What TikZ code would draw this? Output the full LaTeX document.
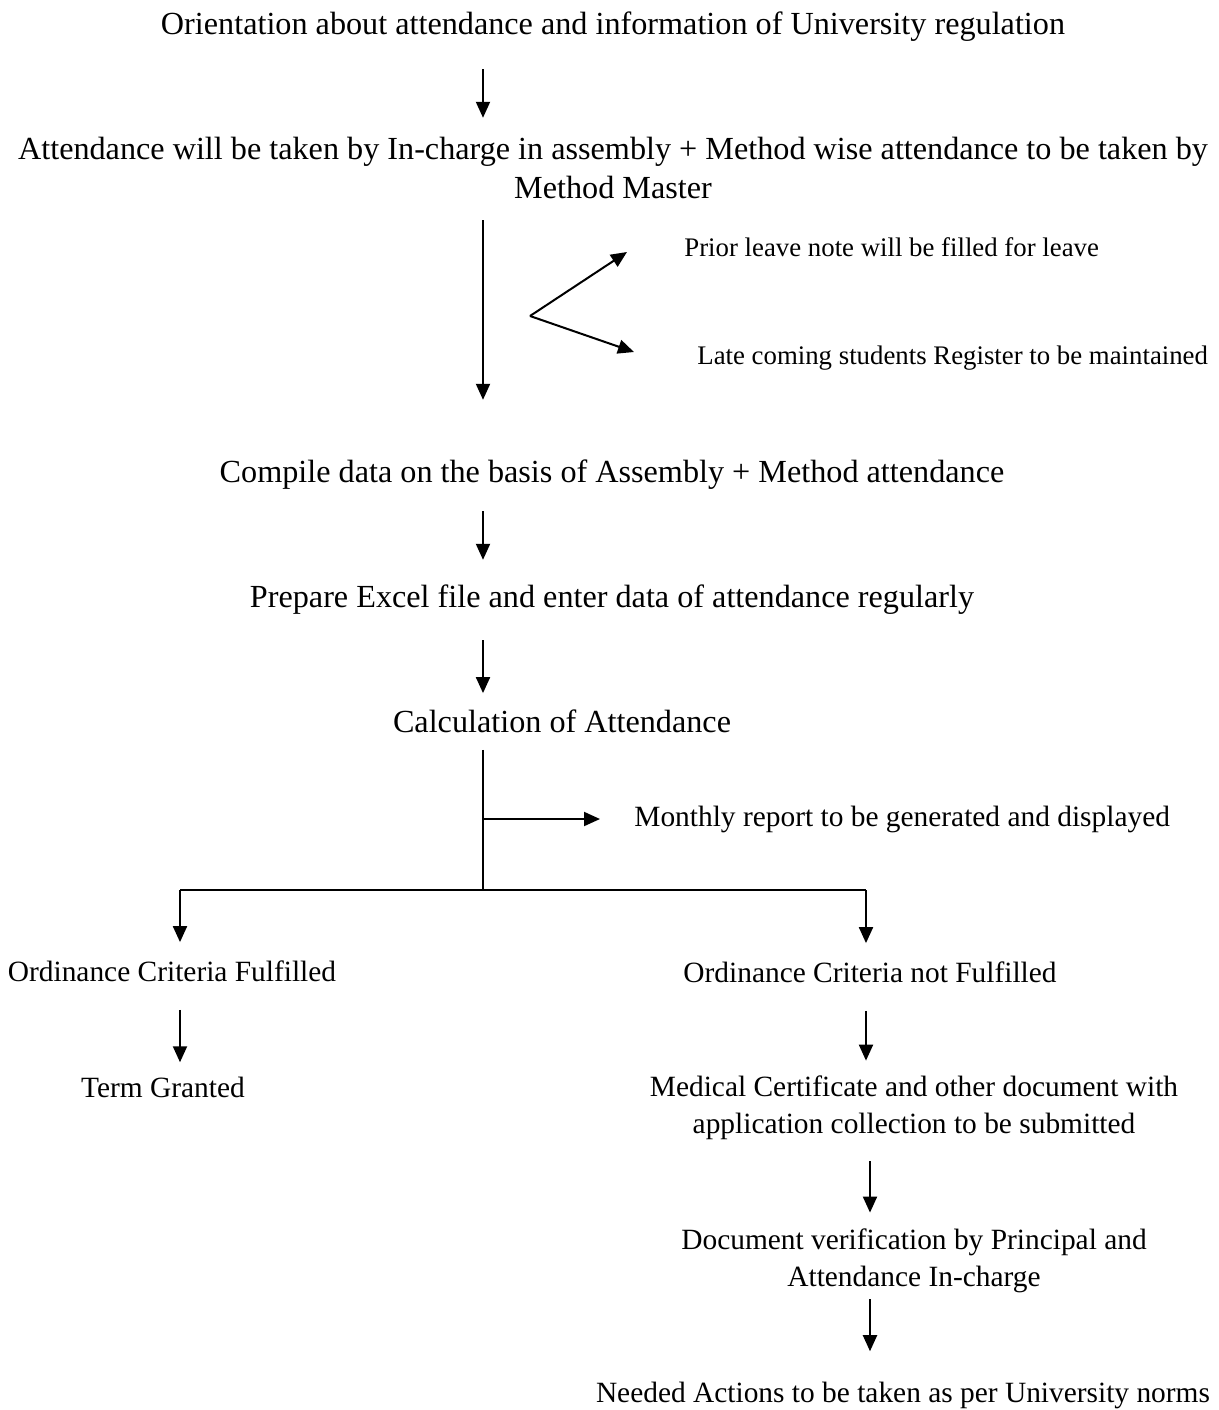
\documentclass[tikz,border=0pt]{standalone}
\usepackage{fontspec}
\setmainfont{Liberation Serif}
\usetikzlibrary{arrows.meta,calc}

\begin{document}
\begin{tikzpicture}[x=0.5pt,y=-0.5pt,
    txt/.style={inner sep=0pt,font=\fontsize{14.7}{18.5}\selectfont,align=center},
    big/.style={txt,font=\fontsize{16.1}{19.5}\selectfont},
    note/.style={inner sep=0pt,font=\fontsize{13.4}{18}\selectfont,anchor=west},
    flow/.style={line width=1pt,-{Triangle[length=8pt,width=7pt]}},
    bar/.style={line width=1pt}]
  \useasboundingbox (0,0) rectangle (1219,1410);
  \coordinate (spine) at (483,0);
  \coordinate (rspine) at (870,0);

  % steps of the flow
  \node[big] (orient) at (613,27) {Orientation about attendance and information of University regulation};
  \node[big] (taken) at (613,168) {Attendance will be taken by In-charge in assembly + Method wise attendance to be taken by\\Method Master};
  \node[note] (prior) at (684,247) {Prior leave note will be filled for leave};
  \node[note] (late) at (697,358) {Late coming students Register to be maintained};
  \node[big] (compile) at (612,475) {Compile data on the basis of Assembly + Method attendance};
  \node[big] (excel) at (612,600) {Prepare Excel file and enter data of attendance regularly};
  \node[big] (calc) at (562,721) {Calculation of Attendance};
  \node[txt,anchor=west] (monthly) at (634,819) {Monthly report to be generated and displayed};
  \node[txt] (fulfil) at (172,971) {Ordinance Criteria Fulfilled};
  \node[txt] (term) at (163,1087) {Term Granted};
  \node[txt] (notful) at (870,972) {Ordinance Criteria not Fulfilled};
  \node[txt] (medical) at (914,1108) {Medical Certificate and other document with\\application collection to be submitted};
  \node[txt] (verify) at (914,1261) {Document verification by Principal and\\Attendance In-charge};
  \node[txt] (needed) at (903,1395) {Needed Actions to be taken as per University norms};

  % main line
  \draw[flow,shorten <=13.5pt,shorten >=9.5pt] (orient.south -| spine) -- (taken.north -| spine);
  \draw[flow,shorten <=10.5pt,shorten >=30pt] (taken.south -| spine) -- (compile.north -| spine);
  \draw[flow,shorten <=10.5pt,shorten >=12.5pt] (compile.south -| spine) -- (excel.north -| spine);
  \draw[flow,shorten <=12.5pt,shorten >=8pt] (excel.south -| spine) -- (calc.north -| spine);

  % leave and late coming
  \coordinate (fork) at (530,316);
  \coordinate (priortip) at (627,252);
  \coordinate (latetip) at (634,352);
  \draw[flow] (fork) -- (priortip);
  \draw[flow] (fork) -- (latetip);

  % split after calculation
  \coordinate (barL) at (180,890);
  \coordinate (barR) at (866,890);
  \draw[bar,shorten <=8.5pt] (calc.south -| spine) -- (barL -| spine);
  \draw[flow,shorten >=17pt] (monthly.west -| spine) -- (monthly.west);
  \draw[bar] (barL) -- (barR);
  \draw[flow,shorten >=9pt] (barL) -- (barL |- fulfil.north);
  \draw[flow,shorten >=9pt] (barR) -- (barR |- notful.north);

  % left branch
  \draw[flow,shorten <=14pt,shorten >=7pt] (barL |- fulfil.south) -- (barL |- term.north);

  % right branch
  \draw[flow,shorten <=14pt,shorten >=7.5pt] (barR |- notful.south) -- (barR |- medical.north);
  \draw[flow,shorten <=10.5pt,shorten >=8pt] (medical.south -| rspine) -- (verify.north -| rspine);
  \draw[flow,shorten <=3pt,shorten >=15pt] (verify.south -| rspine) -- (needed.north -| rspine);
\end{tikzpicture}
\end{document}
